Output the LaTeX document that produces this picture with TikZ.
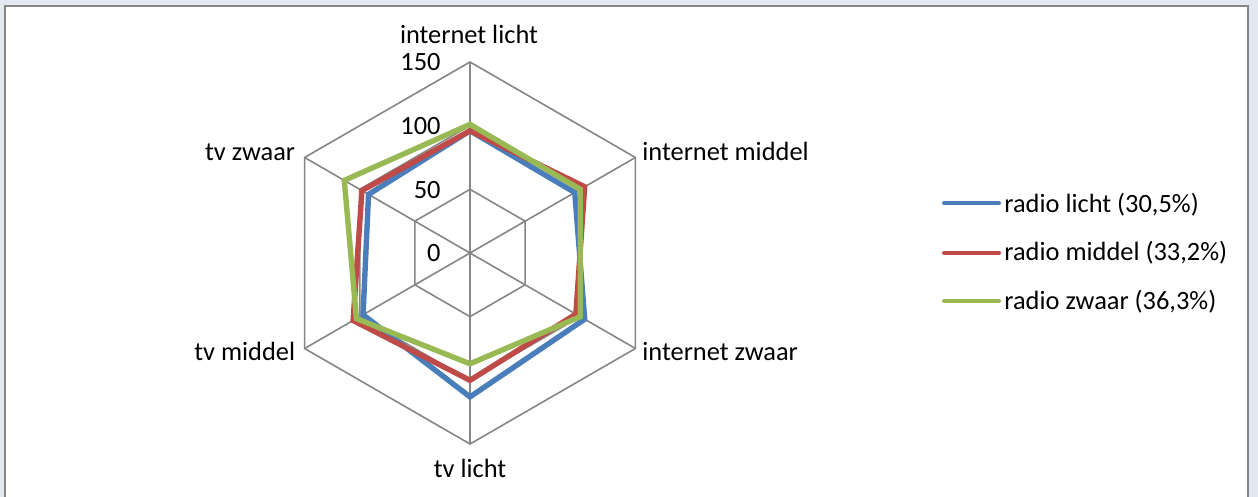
\documentclass[tikz,border=0pt]{standalone}
\usepackage{fontspec}
\setmainfont{Carlito}

\definecolor{gridgray}{RGB}{134,134,134}
\definecolor{radioblue}{RGB}{74,126,187}
\definecolor{radiored}{RGB}{190,75,72}
\definecolor{radiogreen}{RGB}{152,185,84}
\definecolor{backpane}{RGB}{226,233,241}

\tikzset{
  spoke/.style={draw=gridgray, line width=0.8pt},
  series/.style={line width=2.7pt},
  legline/.style={line width=2pt, line cap=round},
  lbl/.style={inner sep=0pt, font=\fontsize{13.2}{16}\selectfont},
}

\begin{document}
\begin{tikzpicture}[x=0.5pt, y=0.5pt]
  \useasboundingbox (0,0) rectangle (1258,497);
  \clip (0,0) rectangle (1258,497);
  \fill[backpane] (0,0) rectangle (1258,497);
  \draw[gridgray, fill=white, line width=0.6pt] (5,-10) rectangle (1248,491);

  % radar grid and data
  \begin{scope}[shift={(470,244)}, scale=1.2733]
    \foreach \r in {50,100,150}
      \draw[spoke] (90:\r) -- (30:\r) -- (-30:\r) -- (-90:\r) -- (-150:\r) -- (150:\r) -- cycle;
    \foreach \a in {90,30,-30,-90,-150,150}
      \draw[spoke] (0,0) -- (\a:150);
    \draw[series, radioblue]  (90:96)  -- (30:95)  -- (-30:104) -- (-90:113) -- (-150:97)  -- (150:92)  -- cycle;
    \draw[series, radiored]   (90:96)  -- (30:104) -- (-30:96)  -- (-90:100) -- (-150:106) -- (150:98)  -- cycle;
    \draw[series, radiogreen] (90:101) -- (30:100) -- (-30:100) -- (-90:87)  -- (-150:103) -- (150:114) -- cycle;
  \end{scope}

  % axis values
  \node[lbl, anchor=base east] (v150) at (441,426) {150};
  \node[lbl, anchor=base east] (v100) at (441,362) {100};
  \node[lbl, anchor=base east] (v50)  at (441,298) {50};
  \node[lbl, anchor=base east] (v0)   at (441,235) {0};

  % axis labels
  \node[lbl, anchor=base]      (intlicht)  at (469,453)   {internet licht};
  \node[lbl, anchor=base west] (intmiddel) at (642,336.3) {internet middel};
  \node[lbl, anchor=base west] (intzwaar)  at (642,136.3) {internet zwaar};
  \node[lbl, anchor=base]      (tvlicht)   at (470,19.7)  {tv licht};
  \node[lbl, anchor=base east] (tvmiddel)  at (295.5,136.3) {tv middel};
  \node[lbl, anchor=base east] (tvzwaar)   at (295.5,336.3) {tv zwaar};

  % legend
  \coordinate (legA) at (944,293.7);
  \coordinate (legB) at (944,244.3);
  \coordinate (legC) at (944,196);
  \node[lbl, anchor=base west] (leglicht)  at (1004,284.3) {radio licht (30,5\%)};
  \node[lbl, anchor=base west] (legmiddel) at (1004,236)   {radio middel (33,2\%)};
  \node[lbl, anchor=base west] (legzwaar)  at (1004,187.7) {radio zwaar (36,3\%)};
  \draw[legline, radioblue]  (legA) -- ++(55,0);
  \draw[legline, radiored]   (legB) -- ++(55,0);
  \draw[legline, radiogreen] (legC) -- ++(55,0);
\end{tikzpicture}
\end{document}
